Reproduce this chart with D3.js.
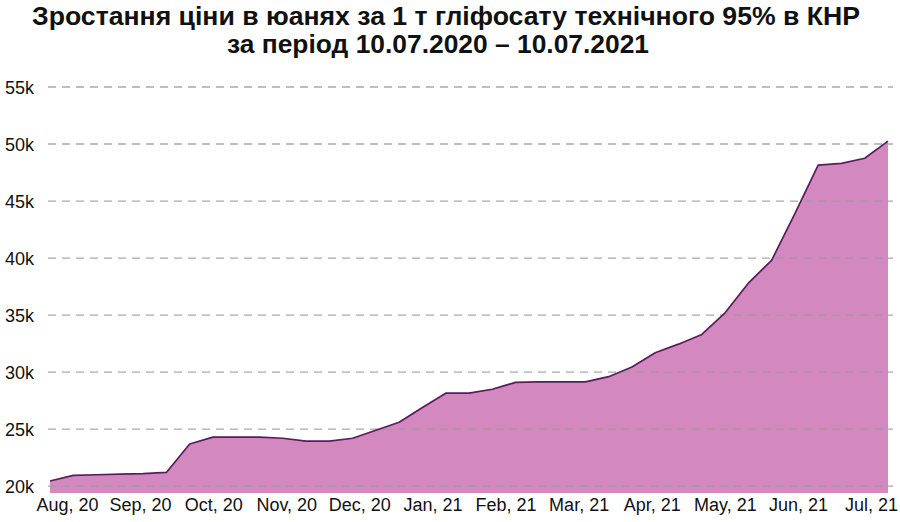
<!DOCTYPE html>
<html>
<head>
<meta charset="utf-8">
<script src="https://cdn.jsdelivr.net/npm/d3@7"></script>
<style>
  body { margin: 0; background: #fff; }
  svg { display: block; }
</style>
</head>
<body>
<div id="chart"></div>
<script>
// price of 1 t glyphosate 95% technical, CNY, every ~10 days
const dates = [
  "2020-07-10", "2020-07-20", "2020-07-30", "2020-08-10", "2020-08-20", "2020-08-30",
  "2020-09-10", "2020-09-20", "2020-09-30", "2020-10-10", "2020-10-20", "2020-10-30",
  "2020-11-10", "2020-11-20", "2020-11-30", "2020-12-10", "2020-12-20", "2020-12-30",
  "2021-01-10", "2021-01-20", "2021-01-30", "2021-02-10", "2021-02-20", "2021-02-28",
  "2021-03-10", "2021-03-20", "2021-03-30", "2021-04-10", "2021-04-20", "2021-04-30",
  "2021-05-10", "2021-05-20", "2021-05-30", "2021-06-10", "2021-06-20", "2021-06-30",
  "2021-07-10"
];
const prices = [
  20450, 20950, 21000, 21050, 21100, 21200,
  23700, 24300, 24300, 24300, 24200, 23950,
  23950, 24200, 24900, 25600, 26900, 28150,
  28150, 28500, 29100, 29150, 29150, 29150,
  29600, 30450, 31700, 32450, 33300, 35200,
  37800, 39800, 43900, 48150, 48300, 48750,
  50250
];
const monthLabels = [
  "Aug, 20", "Sep, 20", "Oct, 20", "Nov, 20", "Dec, 20", "Jan, 21",
  "Feb, 21", "Mar, 21", "Apr, 21", "May, 21", "Jun, 21", "Jul, 21"
];
const yTicks = [20000, 25000, 30000, 35000, 40000, 45000, 50000, 55000];
const titleLines = [
  "Зростання ціни в юанях за 1 т гліфосату технічного 95% в КНР",
  "за період 10.07.2020 – 10.07.2021"
];

const width = 900, height = 522;

const svg = d3.select("#chart")
  .append("svg")
  .attr("width", width)
  .attr("height", height);

const x = d3.scalePoint().domain(dates).range([50, 888]);
const xLabels = d3.scalePoint().domain(monthLabels).range([67, 871]);
const y = d3.scaleLinear().domain([19400, 55000]).range([493, 87]);

// title (condensed bold look: squeeze the text to the reference widths)
svg.append("g")
  .selectAll("text")
  .data(titleLines)
  .join("text")
  .attr("x", (d, i) => i === 0 ? 446 : 438)
  .attr("y", (d, i) => 25 + i * 28)
  .attr("text-anchor", "middle")
  .attr("textLength", (d, i) => i === 0 ? 828 : 422)
  .attr("lengthAdjust", "spacingAndGlyphs")
  .style("font-family", "'Liberation Sans', Arial, sans-serif")
  .style("font-weight", "bold")
  .style("font-size", "25px")
  .attr("fill", "#111")
  .text(d => d);

// area + line
const area = d3.area()
  .x((d, i) => x(dates[i]))
  .y0(y(19400))
  .y1(d => y(d));

const line = d3.line()
  .x((d, i) => x(dates[i]))
  .y(d => y(d));

svg.append("path")
  .datum(prices)
  .attr("fill", "#d488c0")
  .attr("d", area);

// gridlines (drawn over the fill)
svg.append("g")
  .selectAll("line")
  .data(yTicks)
  .join("line")
  .attr("x1", 48)
  .attr("x2", 893)
  .attr("y1", d => y(d))
  .attr("y2", d => y(d))
  .attr("stroke", "#9a9a9a")
  .attr("stroke-opacity", 0.85)
  .attr("stroke-width", 1.3)
  .attr("stroke-dasharray", "8,6");

svg.append("path")
  .datum(prices)
  .attr("fill", "none")
  .attr("stroke", "#5a1d5c")
  .attr("stroke-width", 1.7)
  .attr("stroke-linejoin", "round")
  .attr("d", line);

// y axis
const yAxis = svg.append("g")
  .attr("transform", "translate(48,0)")
  .call(d3.axisLeft(y).tickValues(yTicks).tickSize(0).tickPadding(14)
    .tickFormat(d => d / 1000 + "k"));
yAxis.select(".domain").remove();
yAxis.selectAll("text")
  .attr("dy", "0.36em")
  .style("font-family", "'Liberation Sans', Arial, sans-serif")
  .style("font-size", "18px")
  .attr("fill", "#111");

// x axis
const xAxis = svg.append("g")
  .attr("transform", "translate(0,497)")
  .call(d3.axisBottom(xLabels).tickSize(0).tickPadding(0));
xAxis.select(".domain").remove();
xAxis.selectAll("text")
  .attr("dy", "0.75em")
  .style("font-family", "'Liberation Sans', Arial, sans-serif")
  .style("font-size", "18px")
  .attr("fill", "#111");
</script>
</body>
</html>
